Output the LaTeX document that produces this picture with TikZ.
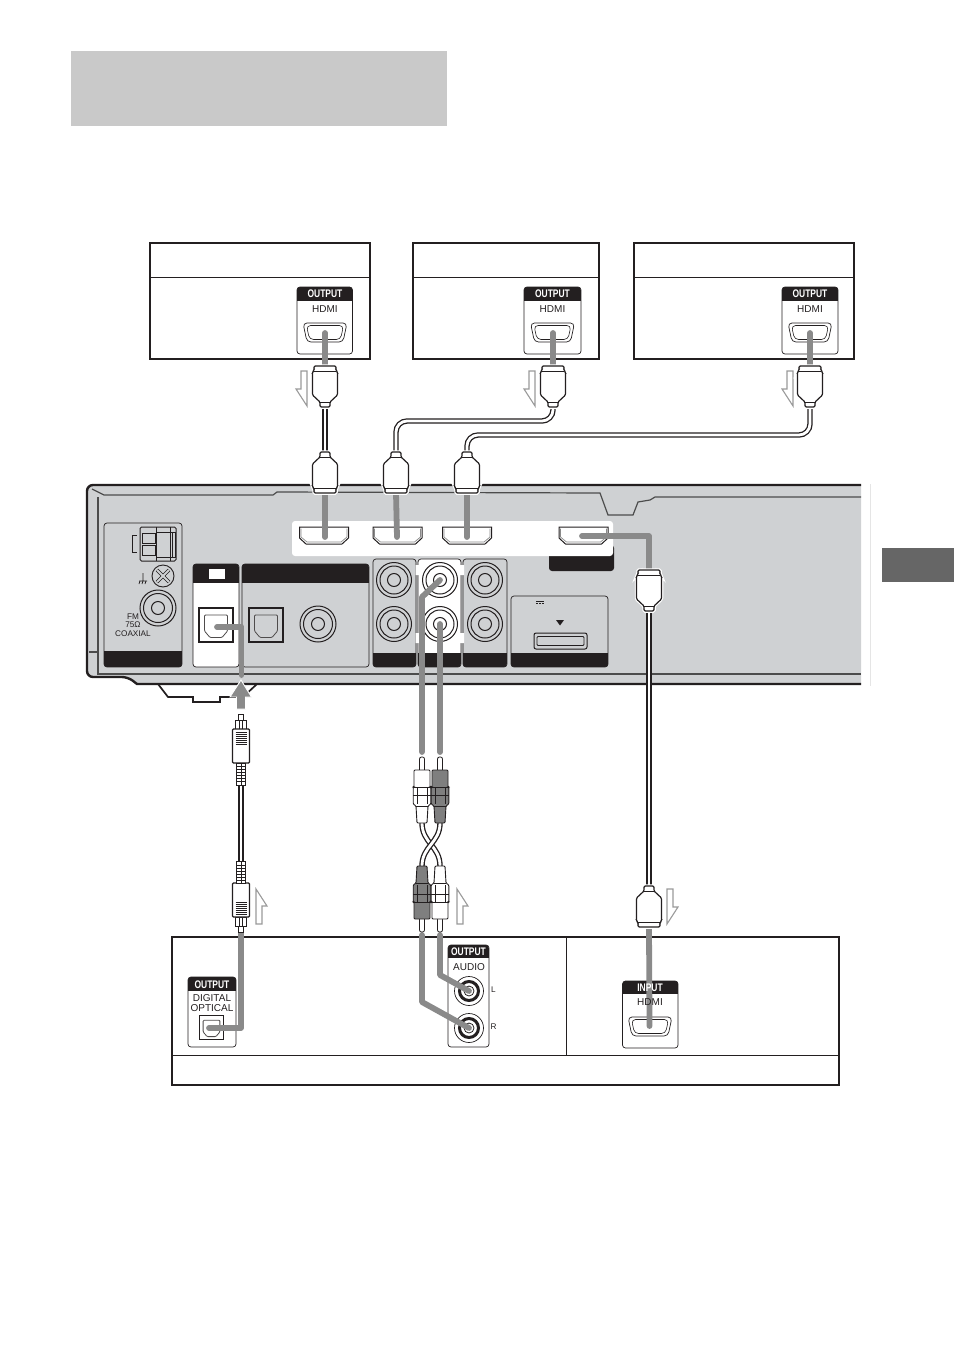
\documentclass[tikz,border=0pt]{standalone}
\usepackage{fontspec}
\setmainfont{Liberation Sans}

\definecolor{casegray}{HTML}{CFD1D3}
\definecolor{leadgray}{HTML}{8A8A8A}
\definecolor{headgray}{HTML}{C9C9C9}
\definecolor{inkblack}{HTML}{231F20}
\definecolor{flowgray}{HTML}{9A9A9A}
\definecolor{rcagray}{HTML}{7F7F7F}

\pgfdeclarelayer{plugs}
\pgfsetlayers{main,plugs}

\newcommand{\headtxt}[1]{\scalebox{.77}[1]{#1}}

% panel with a clipped black band: x1 y1 x2 y2 fill band-top band-bottom
\newcommand{\bandbox}[7]{
	\begin{scope}
		\clip[rounded corners=3pt] (#1,#2) rectangle (#3,#4);
		\fill[#5] (#1,#2) rectangle (#3,#4);
		\fill[inkblack] (#1,#6) rectangle (#3,#7);
	\end{scope}
	\draw[inkblack,line width=.7pt,rounded corners=3pt] (#1,#2) rectangle (#3,#4);
}

\tikzset{
	lead/.style={draw=leadgray,line width=5.8pt,line cap=round,line join=round},
	wire/.style={draw=inkblack,line width=1.3pt,double=white,double distance=2.8pt},
	boxline/.style={draw=inkblack,line width=1.8pt},
	thinline/.style={draw=inkblack,line width=1pt},
	lbl/.style={font=\fontsize{10}{10}\selectfont,text=inkblack,inner sep=0pt,align=center},
	smalllbl/.style={font=\fontsize{8.2}{8.4}\selectfont,text=inkblack,inner sep=0pt,align=center},
	headlbl/.style={font=\bfseries\fontsize{11}{11}\selectfont,text=white,inner sep=0pt},
	pics/hdmiplug/.style={code={
		\draw[inkblack,line width=1.2pt,fill=white,rounded corners=1.2pt,preaction={draw=white,line width=3.5pt}]
			(-5,41) -- (-5,36) -- (-12.5,29) -- (-12.5,6) -- (-11,4.5) -- (-11,0) -- (11,0) -- (11,4.5) -- (12.5,6) -- (12.5,29) -- (5,36) -- (5,41) -- cycle;
		\draw[inkblack,line width=.9pt] (-11,5) -- (11,5) (-5,36) -- (5,36);
		\coordinate (-nose) at (0,0);
		\coordinate (-neck) at (0,41);
	}},
	pics/optplug/.style={code={
		\draw[inkblack,line width=.9pt,fill=white] (-2.5,0) rectangle (2.5,7);
		\draw[inkblack,line width=.9pt,fill=white] (-5.5,6) rectangle (5.5,15);
		\draw[inkblack,line width=.9pt] (-1.5,6) -- (-1.5,15) (1.5,6) -- (1.5,15);
		\draw[inkblack,line width=1.1pt,fill=white,rounded corners=1pt] (-8.5,15) rectangle (8.5,49);
		\foreach \yy in {18,20,...,30} \draw[inkblack,line width=.6pt] (-5.5,\yy) -- (5.5,\yy);
		\draw[inkblack,line width=.9pt,fill=white] (-4.5,49) rectangle (4.5,71);
		\foreach \yy in {52,55,...,69} \draw[inkblack,line width=.9pt] (-4.5,\yy) -- (4.5,\yy);
		\draw[inkblack,line width=.7pt] (0,49) -- (0,71);
		\coordinate (-tip) at (0,0);
		\coordinate (-tail) at (0,71);
	}},
	pics/rcaplug/.style={code={
		\draw[inkblack,line width=.8pt,fill=white,rounded corners=2pt] (-2.5,15) -- (-2.5,0) -- (2.5,0) -- (2.5,15);
		\draw[inkblack,line width=.9pt,fill=#1,rounded corners=1pt]
			(-8,13) -- (8,13) -- (8,30) -- (8.8,30) -- (8.8,47) -- (6,49) -- (5,66) -- (-5,66) -- (-6,49) -- (-8.8,47) -- (-8.8,30) -- (-8,30) -- cycle;
		\draw[inkblack,line width=.6pt] (-8.8,30) -- (8.8,30) (-8.8,38) -- (8.8,38) (-5,30) -- (-5,47) (5,30) -- (5,47) (-6,49) -- (6,49);
		\coordinate (-tail) at (0,66);
	}},
	pics/srcport/.style={code={
		\draw[inkblack,line width=.7pt,fill=white,rounded corners=4pt] (-22,0) -- (22,0) -- (18,19) -- (-18,19) -- cycle;
		\draw[inkblack,line width=.6pt,rounded corners=4pt] (-18.5,2.5) -- (18.5,2.5) -- (15.5,16.5) -- (-15.5,16.5) -- cycle;
	}},
	pics/rcvport/.style={code={
		\draw[inkblack,line width=1pt,fill=white] (-24.5,0) -- (24.5,0) -- (24.5,11) -- (18,17) -- (-18,17) -- (-24.5,11) -- cycle;
		\draw[leadgray,line width=.7pt] (-23,1.5) -- (-23,10) -- (-17,15) -- (17,15) -- (23,10) -- (23,1.5);
	}},
	pics/rcajack/.style={code={
		\draw[inkblack,line width=1pt] (0,0) circle (17.5);
		\draw[inkblack,line width=1pt] (0,0) circle (14);
		\draw[inkblack,line width=1pt] (0,0) circle (6.5);
	}},
	pics/srcjack/.style={code={
		\draw[inkblack,line width=.7pt] (0,0) circle (14.5);
		\draw[inkblack,line width=3pt] (0,0) circle (9.5);
		\draw[inkblack,line width=.8pt] (0,0) circle (5);
	}},
	pics/optport/.style={code={
		\draw[inkblack,line width=1.1pt] (-17,-17) rectangle (17,17);
		\draw[inkblack!80,line width=.8pt,rounded corners=1pt] (-11.5,-10) -- (11.5,-10) -- (11.5,6) -- (6,12.5) -- (-6,12.5) -- (-11.5,6) -- cycle;
	}},
	pics/flow/.style={code={
		\draw[flowgray,line width=1.1pt,line join=miter,fill=white] (5,0) -- (11,0) -- (11,35) -- (0,18) -- (5,18) -- cycle;
	}},
}

\begin{document}
\begin{tikzpicture}[x=1pt,y=-1pt]
\useasboundingbox (0,0) rectangle (954,1351);

% page furniture
\fill[headgray] (71,51) rectangle (447,126);
\fill[black!60] (882,548) rectangle (954,582);
\draw[black!10,line width=.8pt] (870,484) -- (870,686);

% source boxes
\draw[boxline] (150,243) rectangle (370,359);
\draw[boxline] (413,243) rectangle (599,359);
\draw[boxline] (634,243) rectangle (854,359);
\draw[thinline] (150,277) -- (370,277) (413,277) -- (599,277) (634,277) -- (854,277);

\bandbox{297}{287}{352.5}{354}{white}{287}{300.5}
\bandbox{524}{287}{581}{354}{white}{287}{300.5}
\bandbox{782}{287}{838}{354}{white}{287}{300.5}
\pic at (325,323) {srcport};
\pic at (552.5,323) {srcport};
\pic at (810,323) {srcport};

% lower box
\draw[boxline] (172,937) rectangle (839,1085);
\draw[thinline] (172,1055) -- (839,1055) (566.5,937) -- (566.5,1055);
\bandbox{188}{977}{236}{1047}{white}{977}{991}
\bandbox{448}{945}{489}{1047}{white}{945}{957.5}
\bandbox{622.5}{981}{678}{1048}{white}{981}{994}
\pic[scale=.73] at (211.5,1027.5) {optport};
\pic at (650,1017) {srcport};
\coordinate (outL) at (469,991);
\coordinate (outR) at (469,1028);
\pic at (outL) {srcjack};
\pic at (outR) {srcjack};

% case of the unit
\draw[inkblack,line width=1.7pt] (158,684) -- (168,697) -- (193,697) -- (193,702) -- (220,702) -- (220,697) -- (243,697) -- (257,684);
\fill[casegray,rounded corners=6pt] (861,485) -- (87,485) -- (87,677) -- (128,677) [sharp corners] -- (137,684) -- (861,684) -- cycle;
\draw[inkblack,line width=2.4pt,rounded corners=6pt] (861,485) -- (87,485) -- (87,677) -- (128,677) [sharp corners] -- (137,684) -- (861,684);
\draw[black!70,line width=1.2pt] (92,489) -- (104,495) -- (273,495) -- (277,492) -- (600,493) -- (608,515) -- (633,515) -- (638,502) -- (650,500) -- (655,497) -- (861,497);
\draw[black!70,line width=1.2pt] (98,497) -- (98,674) -- (861,674) (89,652) -- (98,652);

% antenna and ground corner
\bandbox{104}{523}{182}{667}{casegray}{651}{667}
\draw[inkblack,line width=1pt,rounded corners=1.5pt] (140,527) rectangle (176,561);
\draw[inkblack,line width=.9pt] (142,533) rectangle (155,543) (142,545) rectangle (155,555);
\draw[inkblack,line width=.9pt] (156,557) -- (156,532) -- (175,532) -- (175,557) -- cycle;
\draw[inkblack,line width=.9pt] (170,527) -- (170,561) (172.5,532) -- (172.5,557) (156,527) -- (156,532) (156,557) -- (156,561);
\draw[inkblack,line width=.8pt] (137,535) -- (132,535) -- (132,552) -- (137,552);
\draw[inkblack,line width=.7pt] (143,573) -- (143,581) (139,581) -- (147,581) (140,581) -- (139,584) (143,581) -- (142,584) (146,581) -- (145,584);
\draw[inkblack,line width=.9pt] (163,576) circle (11);
\draw[inkblack,line width=.7pt,double=casegray,double distance=2pt] (157,570) -- (169,582) (169,570) -- (157,582);
\draw[inkblack,line width=1pt] (158,608) circle (18) (158,608) circle (14.5) (158,608) circle (6.5);

% optical and coaxial inputs
\bandbox{193}{564}{239}{667}{white}{564}{583}
\fill[white] (209,569) rectangle (225,579);
\bandbox{242}{564}{369}{667}{casegray}{564}{583}
\pic at (216,625) {optport};
\pic at (266,625) {optport};
\draw[inkblack,line width=1pt] (318,624) circle (18) (318,624) circle (14.5) (318,624) circle (6.5);

% hdmi strip
\fill[inkblack,rounded corners=3pt] (549,545) rectangle (614,571);
\fill[white,rounded corners=3pt] (292,521) rectangle (613,556);
\coordinate (portA) at (325,537);
\coordinate (portB) at (397,537);
\coordinate (portC) at (467,537);
\coordinate (portD) at (582,536);
\pic at (324,527) {rcvport};
\pic at (397.5,527) {rcvport};
\pic at (467,527) {rcvport};
\pic at (583.5,527) {rcvport};

% analog groups
\bandbox{373}{559}{416}{667}{casegray}{653}{667}
\bandbox{418}{559}{461}{667}{white}{653}{667}
\bandbox{463}{559}{507}{667}{casegray}{653}{667}
\fill[white] (415.5,565) rectangle (419,575) (415.5,633) rectangle (419,643) (460,565) rectangle (464,575) (460,633) rectangle (464,643);
\coordinate (jackU) at (440,580);
\coordinate (jackL) at (440,624);
\pic at (394,580) {rcajack};
\pic at (394,624) {rcajack};
\pic at (jackU) {rcajack};
\pic at (jackL) {rcajack};
\pic at (485,580) {rcajack};
\pic at (485,624) {rcajack};

% expansion slot
\bandbox{511}{596}{608}{667}{casegray}{653}{667}
\draw[inkblack,line width=.6pt] (536,601) -- (544,601);
\draw[inkblack,line width=.6pt,dash pattern=on 2pt off 1pt] (536,603) -- (544,603);
\fill[inkblack] (556,620) -- (564,620) -- (560,625.5) -- cycle;
\draw[inkblack,line width=1pt,rounded corners=2pt] (534,633) rectangle (587,649);
\draw[inkblack,line width=.8pt,rounded corners=1pt] (537,636.5) rectangle (584,645.5);

% all plugs sit on their own layer, above wires and leads
\begin{pgfonlayer}{plugs}
\pic (srcA) at (325,366) {hdmiplug};
\pic (srcB) at (553,366) {hdmiplug};
\pic (srcC) at (810,366) {hdmiplug};
\pic[yscale=-1] (rcvA) at (325,493) {hdmiplug};
\pic[yscale=-1] (rcvB) at (396,493) {hdmiplug};
\pic[yscale=-1] (rcvC) at (467,493) {hdmiplug};
\pic (rcvD) at (649,570) {hdmiplug};
\pic[yscale=-1] (tvIn) at (649,927) {hdmiplug};
\pic (optU) at (241,714) {optplug};
\pic[yscale=-1] (optL) at (241,932) {optplug};
\pic (rcaA) at (422,757) {rcaplug=white};
\pic (rcaB) at (440,757) {rcaplug=rcagray};
\pic[yscale=-1] (rcaC) at (422,932) {rcaplug=rcagray};
\pic[yscale=-1] (rcaD) at (440,932) {rcaplug=white};
\end{pgfonlayer}

% cables between the plugs
\coordinate (turnB) at (553,421);
\coordinate (turnC) at (810,435);
\draw[wire] (srcA-neck) -- (rcvA-neck);
\draw[wire,rounded corners=11pt] (srcB-neck) -- (turnB) -- (rcvB-neck |- turnB) -- (rcvB-neck);
\draw[wire,rounded corners=11pt] (srcC-neck) -- (turnC) -- (rcvC-neck |- turnC) -- (rcvC-neck);
\draw[wire] (rcvD-neck) -- (tvIn-neck);
\draw[wire] (optU-tail) -- (optL-tail);
\draw[wire] (rcaA-tail) .. controls +(0,20) and +(0,-20) .. (rcaD-tail);
\draw[wire] (rcaB-tail) .. controls +(0,20) and +(0,-20) .. (rcaC-tail);

% gray leads into the sockets
\coordinate (outA) at (325,333);
\coordinate (outB) at (553,333);
\coordinate (outC) at (810,333);
\draw[lead] (outA) -- (srcA-nose);
\draw[lead] (outB) -- (srcB-nose);
\draw[lead] (outC) -- (srcC-nose);
\draw[lead] (portA) -- (rcvA-nose);
\draw[lead] (portB) -- (rcvB-nose);
\draw[lead] (portC) -- (rcvC-nose);
\draw[lead] (portD) -- (649,536) -- (rcvD-nose);
\coordinate (tvPort) at (649.5,1026);
\draw[lead] (tvPort) -- (tvIn-nose);

\coordinate (optIn) at (217,627);
\coordinate (optEnd) at (241.5,675);
\coordinate (optOut) at (209,1028);
\draw[lead] (optIn) -- (optEnd |- optIn) -- (optEnd);
\draw[lead] (optOut) -- (optL-tip |- optOut) -- ([yshift=3pt]optL-tip);
\draw[draw=white,line width=.9pt,fill=leadgray] (241,680) -- (251.5,697) -- (245.5,697) -- (245.5,709) -- (236.5,709) -- (236.5,697) -- (230,697) -- cycle;

\draw[lead] (jackU) -- (422,597) -- (422,752);
\draw[lead] (jackL) -- (440,752);
\draw[lead] (outL) -- (440,975) -- (440,935);
\draw[lead] (outR) -- (422,1002) -- (422,935);

% direction arrows
\pic at (296,371) {flow};
\pic at (524,371) {flow};
\pic at (782,371) {flow};
\pic[xscale=-1] at (678,889) {flow};
\pic[rotate=180] at (267,924) {flow};
\pic[rotate=180] at (468,924) {flow};

% labels
\node[headlbl] (hdrA) at (325,294) {\headtxt{OUTPUT}};
\node[headlbl] (hdrB) at (552.5,294) {\headtxt{OUTPUT}};
\node[headlbl] (hdrC) at (810,294) {\headtxt{OUTPUT}};
\node[lbl] (hdmiA) at (325,309) {HDMI};
\node[lbl] (hdmiB) at (552.5,309) {HDMI};
\node[lbl] (hdmiC) at (810,309) {HDMI};
\node[headlbl] (hdrOpt) at (212,984.5) {\headtxt{OUTPUT}};
\node[lbl] (optLbl) at (212,1003.5) {DIGITAL\\OPTICAL};
\node[headlbl] (hdrAud) at (468.5,951.5) {\headtxt{OUTPUT}};
\node[lbl] (audLbl) at (469,967) {AUDIO};
\node[smalllbl] (lblL) at (493.5,990) {L};
\node[smalllbl] (lblR) at (493.5,1027) {R};
\node[headlbl] (hdrIn) at (650,987.5) {\headtxt{INPUT}};
\node[lbl] (hdmiIn) at (650,1002) {HDMI};
\node[smalllbl] (coaxLbl) at (133,625) {FM\\75Ω\\COAXIAL};
\end{tikzpicture}
\end{document}
